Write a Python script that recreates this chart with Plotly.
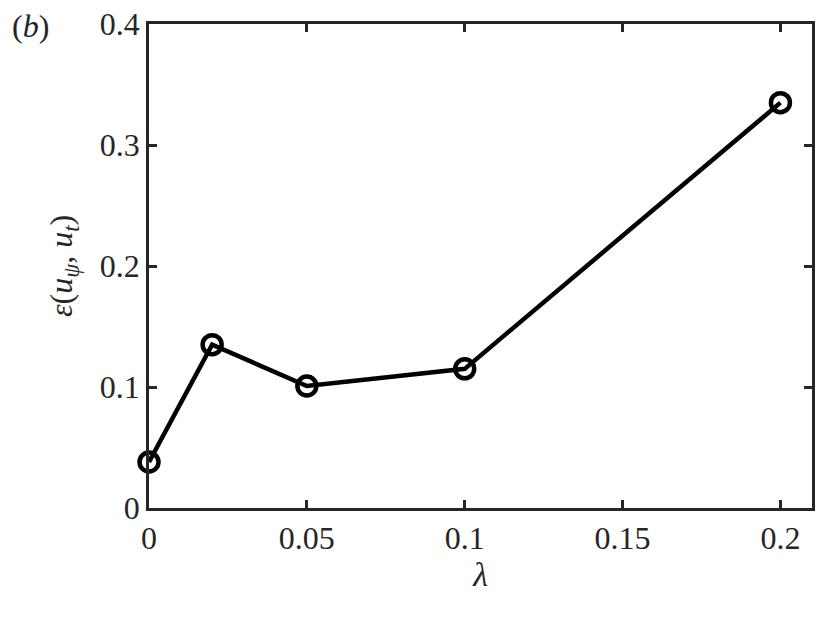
import plotly.graph_objects as go

lam = [0, 0.02, 0.05, 0.1, 0.2]
eps = [0.038, 0.135, 0.1008, 0.115, 0.335]
xticks = [0, 0.05, 0.1, 0.15, 0.2]
xticklabels = ["0", "0.05", "0.1", "0.15", "0.2"]
yticks = [0, 0.1, 0.2, 0.3, 0.4]
yticklabels = ["0", "0.1", "0.2", "0.3", "0.4"]

FONT = "Liberation Serif, Times New Roman, serif"
AX = "#262626"

fig = go.Figure()
fig.add_trace(go.Scatter(
    x=lam, y=eps, mode="lines+markers",
    line=dict(color="black", width=4.5),
    marker=dict(symbol="circle-open", size=19, color="black", line=dict(width=4.5)),
    cliponaxis=False,
))

axcommon = dict(
    showgrid=False, zeroline=False, showline=True, linecolor=AX, linewidth=2.5,
    mirror="allticks", ticks="inside", ticklen=8, tickwidth=2.5, tickcolor=AX,
    tickfont=dict(family=FONT, size=32, color="#262626"),
    ticklabeloverflow="allow", automargin=False,
)
fig.update_xaxes(range=[0, 0.21], tickvals=xticks, ticktext=xticklabels,
                 title=dict(text="<i>λ</i>", font=dict(family=FONT, size=34, color="#262626"), standoff=4),
                 **axcommon)
fig.update_yaxes(range=[0, 0.4], tickvals=yticks, ticktext=yticklabels,
                 title=dict(text="<i>ε</i>(<i>u</i><sub><i>ψ</i></sub>, <i>u</i><sub><i>t</i></sub>)",
                            font=dict(family=FONT, size=32, color="#262626"), standoff=18),
                 **axcommon)

fig.add_annotation(text="(<i>b</i>)", xref="paper", yref="paper", x=-0.21, y=0.995,
                   xanchor="left", yanchor="middle", showarrow=False,
                   font=dict(family=FONT, size=32, color="#262626"))

fig.update_layout(
    width=822, height=614, showlegend=False,
    plot_bgcolor="white", paper_bgcolor="white",
    margin=dict(l=141, r=18, t=16, b=114, autoexpand=False),
)
fig.write_html("out.html")
